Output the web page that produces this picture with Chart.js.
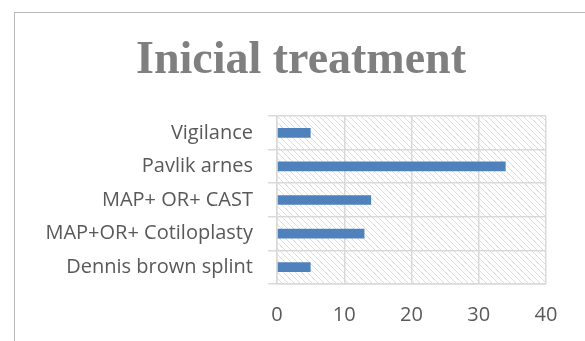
<!DOCTYPE html>
<html>
<head>
<meta charset="utf-8">
<script src="https://cdn.jsdelivr.net/npm/chart.js@4"></script>
<style>
  html, body { margin: 0; padding: 0; background: #fff; overflow: hidden; }
  #wrap { position: relative; width: 585px; height: 341px; }
  #frame { position: absolute; left: 14px; top: 12px; width: 700px; height: 400px;
           border: 1px solid #b8b8b8; box-sizing: border-box; }
  canvas { position: absolute; left: 0; top: 0; }
</style>
</head>
<body>
<div id="wrap">
  <div id="frame"></div>
  <canvas id="c" width="585" height="341"></canvas>
</div>
<script>
// Treatments, listed top-to-bottom as they appear on the axis
const categories = ['Vigilance', 'Pavlik arnes', 'MAP+ OR+ CAST', 'MAP+OR+ Cotiloplasty', 'Dennis brown splint'];
const counts = [5, 34, 14, 13, 5];
const xTicks = [0, 10, 20, 30, 40];
const chartTitle = 'Inicial treatment';

// Diagonal hatch behind the plot area plus the heading
const decor = {
  id: 'decor',
  beforeDraw(chart) {
    const { ctx, chartArea: a } = chart;
    ctx.save();
    ctx.beginPath();
    ctx.rect(a.left, a.top, a.right - a.left, a.bottom - a.top);
    ctx.clip();
    ctx.strokeStyle = '#dcdcdc';
    ctx.lineWidth = 1;
    const h = a.bottom - a.top;
    for (let x = a.left - h; x < a.right + 6; x += 6) {
      ctx.beginPath();
      ctx.moveTo(x, a.top);
      ctx.lineTo(x + h, a.bottom);
      ctx.stroke();
    }
    ctx.restore();

    ctx.save();
    ctx.font = 'bold 46px "Liberation Serif", serif';
    ctx.fillStyle = '#7f7f7f';
    ctx.textAlign = 'center';
    ctx.textBaseline = 'alphabetic';
    ctx.fillText(chartTitle, 301, 73);
    ctx.restore();
  }
};

const tickFont = { family: '"Open Sans"', size: 20 };

new Chart(document.getElementById('c'), {
  type: 'bar',
  data: {
    labels: categories,
    datasets: [{
      data: counts,
      backgroundColor: '#4f81bd',
      borderWidth: 0,
      categoryPercentage: 1,
      barPercentage: 0.29
    }]
  },
  options: {
    indexAxis: 'y',
    responsive: false,
    animation: false,
    layout: { padding: { top: 116, right: 39, left: 0, bottom: 0 } },
    plugins: { legend: { display: false }, tooltip: { enabled: false }, title: { display: false } },
    scales: {
      x: {
        min: 0, max: 40,
        afterBuildTicks(scale) { scale.ticks = xTicks.map(v => ({ value: v })); },
        afterFit(scale) { scale.height = 57; },
        grid: { color: '#d9d9d9', lineWidth: 1.5, drawTicks: false },
        border: { color: '#d9d9d9', width: 1.5 },
        ticks: { color: '#595959', padding: 19, font: tickFont }
      },
      y: {
        afterFit(scale) { scale.width = 277; },
        grid: { color: '#d9d9d9', lineWidth: 1.5, tickLength: 9, offset: true },
        border: { color: '#d9d9d9', width: 1.5 },
        ticks: { color: '#595959', padding: 15, font: tickFont }
      }
    }
  },
  plugins: [decor]
});
</script>
</body>
</html>
